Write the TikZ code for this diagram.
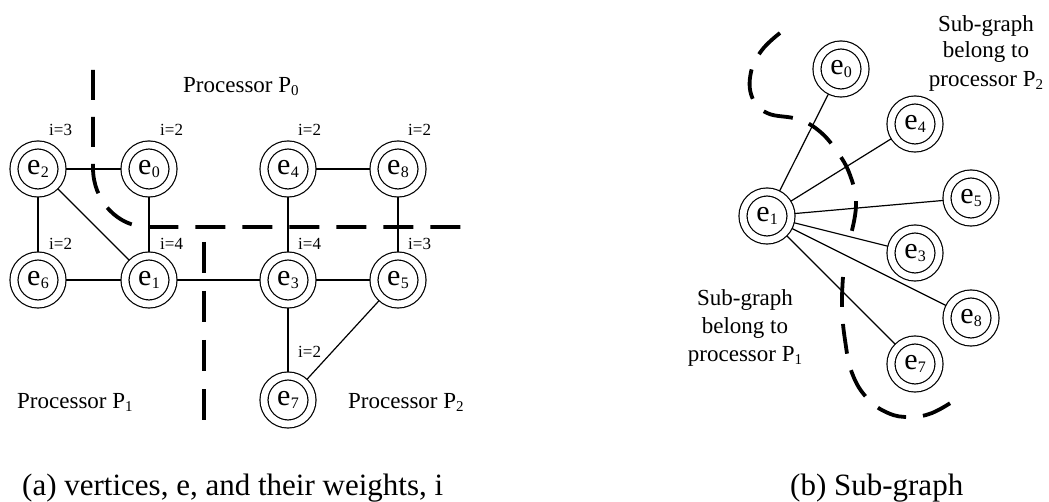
\documentclass[tikz,border=0pt]{standalone}
\usepackage{fontspec}
\setmainfont{Liberation Serif}
\newcommand{\ev}[1]{e\kern0.2pt\raisebox{-3.5pt}{\fontsize{16}{16}\selectfont #1}}
\newcommand{\psb}[1]{\raisebox{-3pt}{\fontsize{15}{15}\selectfont #1}}
\begin{document}
\begin{tikzpicture}[x=1pt,y=-1pt,
  vtx/.style={circle, draw, line width=1.2pt, double, double distance=6.8pt,
    minimum size=48pt, inner sep=0pt, outer sep=4pt, fill=white,
    font=\fontsize{30}{30}\selectfont},
  lnk/.style={line width=1.2pt},
  part/.style={line width=3.8pt, dash pattern=on 30pt off 17pt},
  wt/.style={font=\fontsize{17}{17}\selectfont, anchor=base west, inner sep=0pt},
  lab/.style={font=\fontsize{23}{23}\selectfont, anchor=base west, inner sep=0pt},
  labc/.style={font=\fontsize{23}{23}\selectfont, anchor=base, inner sep=0pt},
  capt/.style={font=\fontsize{31}{31}\selectfont, anchor=base west, inner sep=0pt}]
\useasboundingbox (0,0) rectangle (1049,502);

% ---------- (a) ----------
\node[vtx] (a2) at (38,169) {\ev{2}};
\node[vtx] (a0) at (149,169) {\ev{0}};
\node[vtx] (a4) at (288,169) {\ev{4}};
\node[vtx] (a8) at (398,169) {\ev{8}};
\node[vtx] (a6) at (38,280) {\ev{6}};
\node[vtx] (a1) at (149,280) {\ev{1}};
\node[vtx] (a3) at (288,280) {\ev{3}};
\node[vtx] (a5) at (398,280) {\ev{5}};
\node[vtx] (a7) at (288,400) {\ev{7}};

\draw[lnk] (a2) -- (a0);
\draw[lnk] (a2) -- (a6);
\draw[lnk] (a2) -- (a1);
\draw[lnk] (a0) -- (a1);
\draw[lnk] (a4) -- (a8);
\draw[lnk] (a4) -- (a3);
\draw[lnk] (a8) -- (a5);
\draw[lnk] (a6) -- (a1);
\draw[lnk] (a1) -- (a3);
\draw[lnk] (a3) -- (a5);
\draw[lnk] (a3) -- (a7);
\draw[lnk] (a5) -- (a7);

\node[wt] (w2) at (49,136) {i=3};
\node[wt] (w0) at (160,136) {i=2};
\node[wt] (w4) at (298,136) {i=2};
\node[wt] (w8) at (408,136) {i=2};
\node[wt] (w6) at (49,250) {i=2};
\node[wt] (w1) at (160,250) {i=4};
\node[wt] (w3) at (298,250) {i=4};
\node[wt] (w5) at (408,250) {i=3};
\node[wt] (w7) at (298,357) {i=2};

\draw[part] (93,70) -- (93,168) .. controls (93,200.6) and (117.6,227) .. (148,227) -- (472,227);
\draw[part, dash pattern=on 31pt off 18pt] (204,242) -- (204,420);

\node[lab] (p0) at (183,93) {Processor P\psb{0}};
\node[lab] (p1) at (17,408) {Processor P\psb{1}};
\node[lab] (p2) at (348,408) {Processor P\psb{2}};

\node[capt] (ca) at (22,495) {(a) vertices, e, and their weights, i};

% ---------- (b) ----------
\node[vtx] (b1) at (767,216) {\ev{1}};
\node[vtx] (b0) at (841,69) {\ev{0}};
\node[vtx] (b4) at (915,124) {\ev{4}};
\node[vtx] (b5) at (971,198) {\ev{5}};
\node[vtx] (b3) at (915,253) {\ev{3}};
\node[vtx] (b8) at (971,318) {\ev{8}};
\node[vtx] (b7) at (915,364) {\ev{7}};

\draw[lnk] (b1) -- (b0);
\draw[lnk] (b1) -- (b4);
\draw[lnk] (b1) -- (b5);
\draw[lnk] (b1) -- (b3);
\draw[lnk] (b1) -- (b8);
\draw[lnk] (b1) -- (b7);

\draw[part] plot[smooth, tension=0.7] coordinates {(780,33) (762,50) (751,72) (752,97) (767,113) (797,119) (818,130) (836,150) (850,175) (856,205) (850,238)};
\draw[part] plot[smooth, tension=0.7] coordinates {(843,277) (842,307) (845,340) (852,373) (867,398) (888,413) (910,417) (932,413) (955,400)};

\node[labc] (s1) at (986,31.5) {Sub-graph};
\node[labc] (s2) at (986,57.5) {belong to};
\node[labc] (s3) at (986,86.5) {processor P\psb{2}};

\node[labc] (t1) at (745,306) {Sub-graph};
\node[labc] (t2) at (745,334) {belong to};
\node[labc] (t3) at (745,362) {processor P\psb{1}};

\node[capt] (cb) at (790,495) {(b) Sub-graph};
\end{tikzpicture}
\end{document}
